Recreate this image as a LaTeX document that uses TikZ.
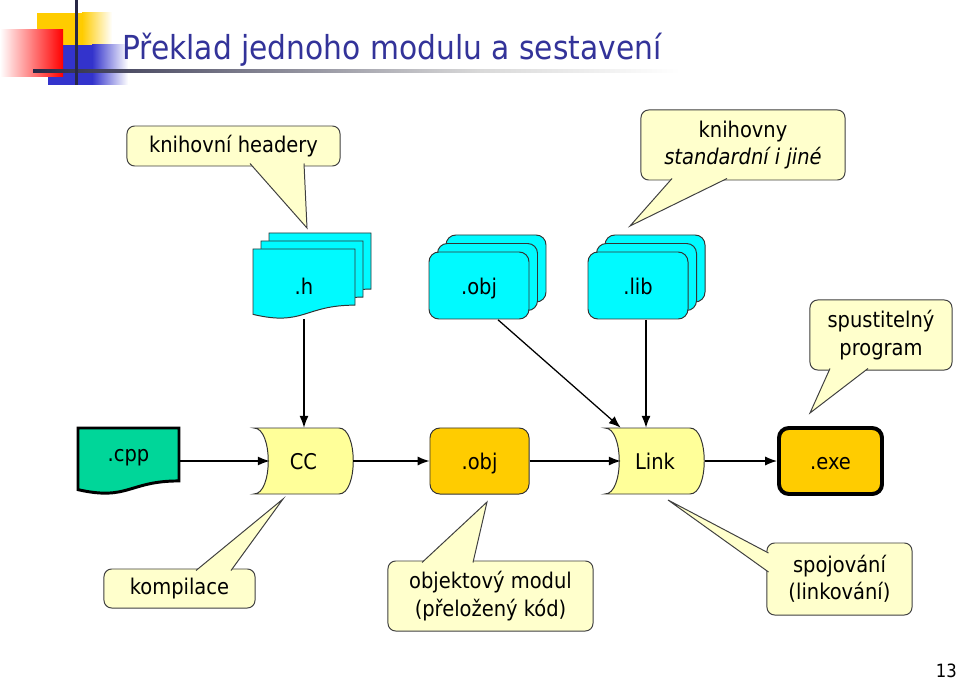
\documentclass[tikz,border=0pt]{standalone}
\usepackage{fontspec}
\setmainfont{DejaVu Sans Condensed}
\usetikzlibrary{calc}
\usetikzlibrary{arrows.meta}

\definecolor{titleblue}{RGB}{51,51,153}
\definecolor{notefill}{RGB}{255,255,204}
\definecolor{procfill}{RGB}{255,255,153}
\definecolor{filecyan}{RGB}{0,250,255}
\definecolor{srcgreen}{RGB}{0,214,153}
\definecolor{binorange}{RGB}{255,204,0}
\definecolor{logoyellow}{RGB}{255,204,0}
\definecolor{logored}{RGB}{255,0,0}
\definecolor{logoblue}{RGB}{51,51,204}
\definecolor{logobar}{RGB}{40,40,70}

\tikzset{
  note/.style={draw=black!75, fill=notefill, line width=0.7pt, rounded corners=5.5pt,
    inner sep=0pt, align=center, font=\fontsize{15.4}{19.5}\selectfont},
  tagtext/.style={inner sep=0pt, text height=14pt, text depth=2.5pt,
    font=\fontsize{15.4}{19.5}\selectfont},
  flow/.style={-{Latex[length=8.5pt,width=6.5pt]}, line width=0.9pt},
  filecard/.style={draw=black!80, fill=filecyan, line width=0.7pt, rounded corners=7pt},
  filedoc/.style={draw=black!80, fill=filecyan, line width=0.7pt},
  proc/.style={draw=black!80, fill=procfill, line width=0.7pt},
}

% document sheet: x, y, width, height, style
\newcommand{\docsheet}[5]{%
  \filldraw[#5] ({#1},{#2}) -- ({#1+#3},{#2}) -- ({#1+#3},{#2+0.802*#4})
    .. controls ({#1+0.5*#3},{#2+0.802*#4}) and ({#1+0.5*#3},{#2+1.107*#4}) ..
    ({#1},{#2+0.934*#4}) -- cycle;}
% stored-data shape: x1, y1, x2, y2
\newcommand{\procshape}[4]{%
  \filldraw[proc] ({#1},{#2}) -- ({#3},{#2})
    .. controls ({#3+19},{#2}) and ({#3+19},{#4}) .. ({#3},{#4}) -- ({#1},{#4})
    .. controls ({#1+19},{#4}) and ({#1+19},{#2}) .. ({#1},{#2}) -- cycle;}
% callout tail: base a, tip, base b
\newcommand{\notetail}[3]{%
  \fill[notefill] #1 -- #2 -- #3 -- cycle;
  \draw[black!75, line width=0.7pt] #1 -- #2 -- #3;}

\begin{document}
\begin{tikzpicture}[x=0.025cm, y=-0.025cm]
\useasboundingbox (0,0) rectangle (960,682);

% logo
\fill[logoyellow] (37,13) rectangle (82,45);
\shade[left color=logoyellow, right color=white] (82,13) rectangle (112,45);
\fill[logoblue] (48,45) rectangle (92,85);
\shade[left color=logoblue, right color=white] (92,45) rectangle (128,85);
\shade[left color=white, right color=logored] (0,30) rectangle (63,77);
\shade[left color=logobar, right color=black!15] (33,69.5) rectangle (480,72.5);
\shade[left color=black!15, right color=white] (480,69.5) rectangle (680,72.5);
\fill[logobar] (74.5,0) rectangle (77.5,85);
\node[anchor=base west, inner sep=0pt, text=titleblue, font=\fontsize{23.5}{28}\selectfont]
  (title) at (122,60) {Překlad jednoho modulu a sestavení};

% .h stack
\foreach \d in {16,8,0} {
  \docsheet{253+\d}{249-\d}{102}{70}{filedoc}
}
\node[tagtext, minimum width=2.55cm, minimum height=1.65cm] (hfile) at (304,286) {.h};

% .obj stack
\foreach \d in {17,8.5,0} {
  \filldraw[filecard] (429+\d,252-\d) rectangle (529+\d,319-\d);
}
\node[tagtext, minimum width=2.5cm, minimum height=1.675cm] (objlib) at (479,286) {.obj};

% .lib stack
\foreach \d in {17,8.5,0} {
  \filldraw[filecard] (588+\d,252-\d) rectangle (688+\d,319-\d);
}
\node[tagtext, minimum width=2.5cm, minimum height=1.675cm] (libfile) at (638,286) {.lib};

% main row
\docsheet{78}{428}{101}{66}{draw=black, fill=srcgreen, line width=2.1pt}
\node[tagtext, minimum width=2.525cm, minimum height=1.35cm] (cpp) at (128.5,453) {.cpp};
\procshape{254}{428}{339}{494}
\node[tagtext, minimum width=2.475cm, minimum height=1.65cm] (cc) at (303.5,461) {CC};
\node[tagtext, draw=black!80, fill=binorange, line width=0.7pt, rounded corners=7pt,
  minimum width=2.475cm, minimum height=1.65cm] (objout) at (479.5,461) {.obj};
\procshape{605}{428}{690}{494}
\node[tagtext, minimum width=2.5cm, minimum height=1.65cm] (link) at (655,461) {Link};
\node[tagtext, draw=black, fill=binorange, line width=2.8pt, rounded corners=7pt,
  minimum width=2.575cm, minimum height=1.65cm] (exe) at (830.5,461) {.exe};

% arrows
\coordinate (ccin) at ($(cc.west)+(16,0)$);
\coordinate (linkin) at ($(link.west)+(16,0)$);
\coordinate (objstart) at ($(objlib.south)+(19,0)$);
\coordinate (libout) at ($(libfile.south)+(8,0)$);
\draw[flow] (cpp.east |- cc.west) -- (ccin);
\draw[flow] (cc.east) -- (objout.west);
\draw[flow] (objout.east) -- (linkin);
\draw[flow] (link.east) -- (exe.west);
\draw[flow] (hfile.south) -- (hfile.south |- cc.north);
\draw[flow] (objstart) -- ($(link.north west)+(16,0)$);
\draw[flow] (libout) -- (libout |- link.north);

% callouts
\node[note, minimum width=5.325cm, minimum height=1cm] (hdrnote) at (233.5,146) {knihovní headery};
\coordinate (hdrtip) at (307,228);
\notetail{(250,163.5)}{(hdrtip)}{(304,163.5)}

\node[note, minimum width=5.1cm, minimum height=1.75cm] (libnote) at (743,145)
  {knihovny\\\textit{standardní i jiné}};
\coordinate (libtip) at (630,226);
\notetail{(672,178.5)}{(libtip)}{(727,178.5)}

\node[note, minimum width=3.55cm, minimum height=1.75cm] (exenote) at (881,335)
  {spustitelný\\program};
\coordinate (exetip) at (810,413);
\notetail{(830,368.5)}{(exetip)}{(868,368.5)}

\node[note, minimum width=3.775cm, minimum height=0.975cm] (ccnote) at (179.5,588.5) {kompilace};
\coordinate (cctip) at (283,499);
\notetail{(196,570.5)}{(cctip)}{(231,570.5)}

\node[note, minimum width=5.125cm, minimum height=1.75cm] (objnote) at (490.5,596)
  {objektový modul\\(přeložený kód)};
\coordinate (objtip) at (487,502);
\notetail{(422,562.5)}{(objtip)}{(473,562.5)}

\node[note, minimum width=3.625cm, minimum height=1.8cm] (linknote) at (839.5,579)
  {spojování\\(linkování)};
\coordinate (linktip) at (668,500);
\notetail{(768.5,553)}{(linktip)}{(768.5,572)}

% page number
\node[anchor=base east, inner sep=0pt, font=\fontsize{13}{15}\selectfont] (pageno) at (957,677) {13};
\end{tikzpicture}
\end{document}
